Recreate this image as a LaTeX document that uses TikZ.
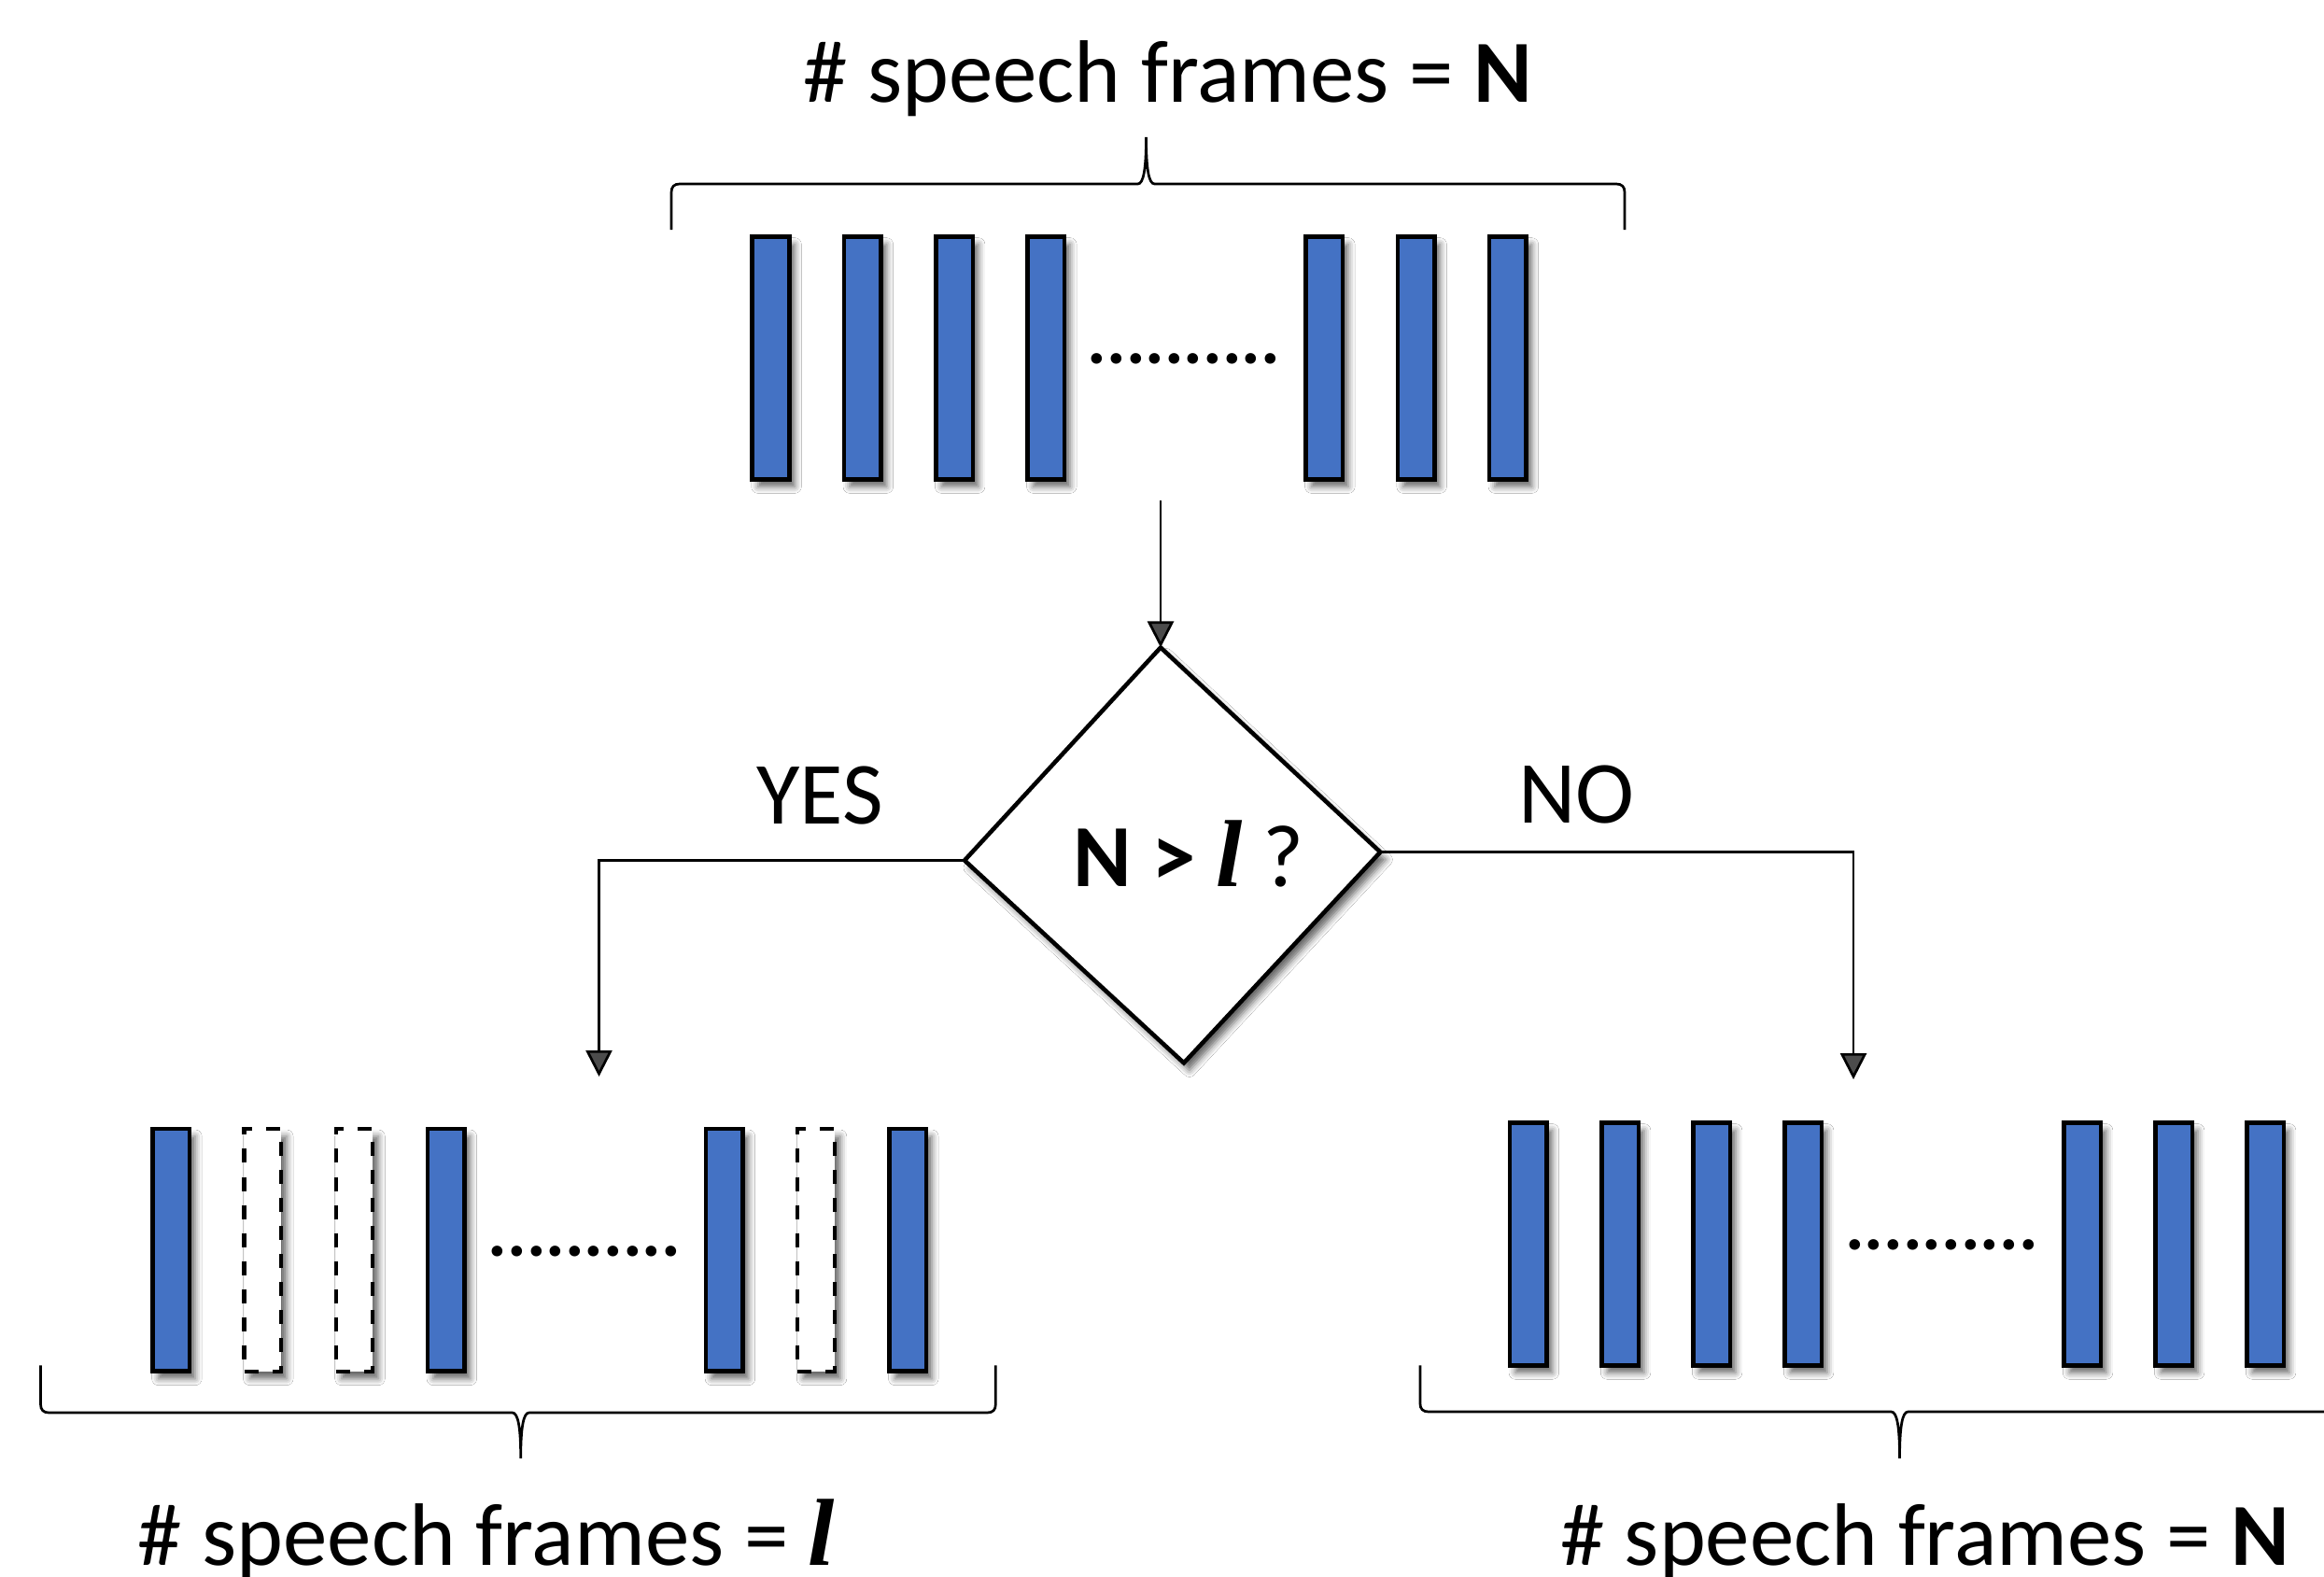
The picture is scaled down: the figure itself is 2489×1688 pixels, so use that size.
\documentclass[tikz,border=0pt]{standalone}
\usepackage{fontspec}
\setmainfont{Carlito}
\newfontfamily\serifell{Liberation Serif}
\usetikzlibrary{arrows.meta,shadows.blur}
\definecolor{barblue}{HTML}{4472C4}

% bold italic frame-count symbol
\newcommand\lsym{{\serifell\fontsize{29}{31}\selectfont\bfseries\itshape l}}

% horizontal curly brace: xL, xR, y of the ends, y of the bar, x and y of the tip, side (+1 ends below the bar, -1 above)
\newcommand\framebrace[7]{%
  \draw[brace] (#1,#3) -- (#1,{#4+9*#7})
    .. controls (#1,{#4+3*#7}) and ({#1+3},#4) .. ({#1+9},#4)
    -- ({#5-9},#4)
    .. controls ({#5-3},#4) and (#5,{#4-15*#7}) .. (#5,#6)
    .. controls (#5,{#4-15*#7}) and ({#5+3},#4) .. ({#5+9},#4)
    -- ({#2-9},#4)
    .. controls ({#2-3},#4) and (#2,{#4+3*#7}) .. (#2,{#4+9*#7})
    -- (#2,#3);}

\begin{document}
\begin{tikzpicture}[x=0.01cm,y=-0.01cm,
  softshadow/.style={blur shadow={shadow xshift=0.06cm,shadow yshift=-0.08cm,
      shadow blur radius=0.07cm,shadow opacity=60}},
  frame/.style={rectangle,draw=black,line width=1.3pt,fill=barblue,
      minimum width=0.395cm,minimum height=2.595cm,inner sep=0pt,softshadow},
  dropped/.style={frame,fill=white,line width=1.2pt,dash pattern=on 0.15cm off 0.15cm},
  dotrow/.style={inner sep=0pt,font=\fontsize{22}{25}\selectfont\bfseries},
  label/.style={anchor=base,inner sep=0pt,font=\fontsize{27}{31}\selectfont},
  conn/.style={line width=0.77pt,-{Triangle[width=0.28cm,length=0.28cm]}},
  brace/.style={line width=0.77pt},
  decision/.style={draw=black,fill=white,line width=1.3pt,line join=miter,softshadow}]

\fill[white] (0,0) rectangle (2489,1688);
\useasboundingbox (0,0) rectangle (2489,1688);

% input sequence
\node[label] (title) at (1250.5,110) {\# speech frames = \textbf{N}};
\framebrace{719}{1740}{246}{197}{1227.5}{147}{1}
\foreach \x [count=\i] in {825.5,923.8,1022.1,1120.3,1418.3,1516.6,1614.8}
  \node[frame] (in\i) at (\x,383.5) {};
\node[dotrow] (indots) at (1268,384) {..........};

% decision
\coordinate (dT) at (1243,693.5);
\coordinate (dR) at (1478.3,912.6);
\coordinate (dB) at (1267.9,1138.4);
\coordinate (dL) at (1033,921.5);
\filldraw[decision] (dT) -- (dR) -- (dB) -- (dL) -- cycle;
\node[label] (test) at (1273,949)
  {\textbf{N >} \lsym{} ?};

\coordinate (src) at (1243,536);
\coordinate (yesEnd) at (641.5,1153);
\coordinate (noEnd) at (1985,1156);
\draw[conn] (src) -- (dT);
\draw[conn] (dL) -| (yesEnd);
\draw[conn] (dR) -| (noEnd);
\node[label] (yes) at (878,882) {YES};
\node[label] (no) at (1688.5,881) {NO};

% truncated sequence
\foreach \x/\s [count=\i] in {183.4/frame,281.3/dropped,379.5/dropped,477.8/frame,
    775.9/frame,874/dropped,972.3/frame}
  \node[\s] (cut\i) at (\x,1338.8) {};
\node[dotrow] (cutdots) at (626,1340) {..........};
\framebrace{43.5}{1066.3}{1462.3}{1513}{557.7}{1561.8}{-1}
\node[label] (cutlabel) at (521,1676) {\# speech frames = \lsym};

% unchanged sequence
\foreach \x [count=\i] in {1636.8,1735,1833,1931,2230,2328,2426}
  \node[frame] (keep\i) at (\x,1332.4) {};
\node[dotrow] (keepdots) at (2079.5,1333) {..........};
\framebrace{1520.9}{2548}{1462.3}{1512}{2034.5}{1561.8}{-1}
\node[label] (keeplabel) at (2061.4,1676) {\# speech frames = \textbf{N}};
\end{tikzpicture}
\end{document}
